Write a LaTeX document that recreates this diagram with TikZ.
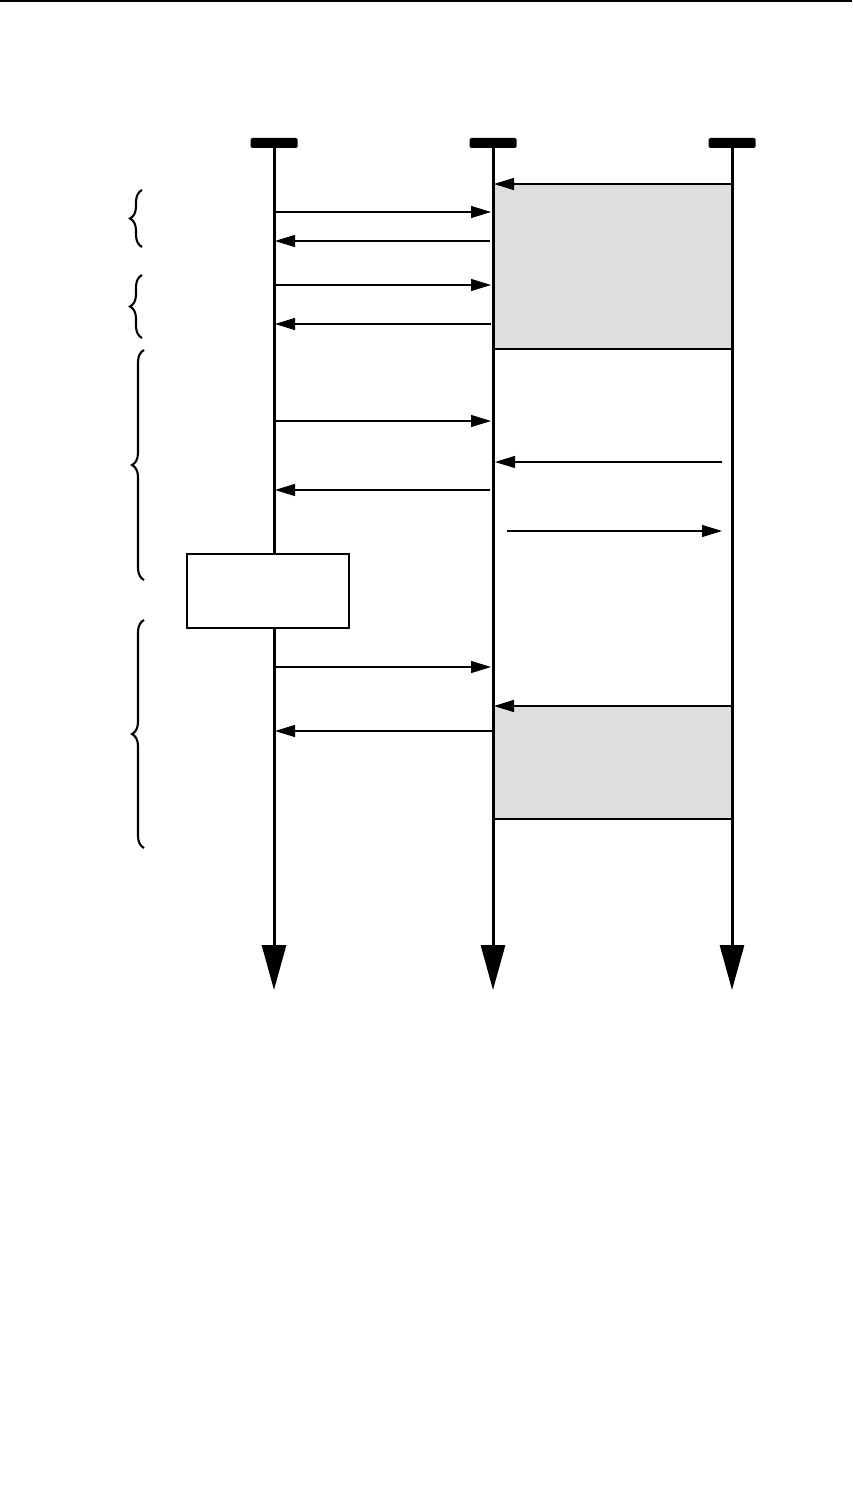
\documentclass[tikz,border=0pt]{standalone}
\usetikzlibrary{arrows.meta,decorations.pathreplacing}
\begin{document}
\begin{tikzpicture}[x=1pt,y=-1pt,
  msg/.style={line width=1.3pt,-{Triangle[length=20pt,width=12pt]}},
  life/.style={line width=3pt,-{Triangle[length=45pt,width=24pt]}},
  head/.style={fill=black,rounded corners=1.5pt,minimum width=47pt,minimum height=10pt,inner sep=0pt},
  shade/.style={fill=black!13,draw=none},
  brc/.style={decorate,decoration={brace,amplitude=12pt},line width=2.1pt},
  procbox/.style={draw,line width=1.5pt,fill=white,minimum width=162pt,minimum height=74pt,inner sep=0pt}]
\useasboundingbox (0,0) rectangle (852,1498);
\draw[line width=2pt] (0,1) -- (852,1);
% shaded regions
\fill[shade] (493,184) rectangle (732,349);
\fill[shade] (493,706) rectangle (732,819);
% lifeline heads
\node[head] (hA) at (274,143) {};
\node[head] (hB) at (493,143) {};
\node[head] (hC) at (732,143) {};
\coordinate (eA) at (274,990);
\coordinate (eB) at (493,990);
\coordinate (eC) at (732,990);
\draw[life] (hA.south) -- (eA);
\draw[life] (hB.south) -- (eB);
\draw[life] (hC.south) -- (eC);
% shaded box bottoms
\coordinate (s1l) at (493,349); \coordinate (s1r) at (732,349);
\coordinate (s2l) at (493,819); \coordinate (s2r) at (732,819);
\draw[line width=2pt] (s1l) -- (s1r);
\draw[line width=2pt] (s2l) -- (s2r);
% messages
\coordinate (m0s) at (732,184); \coordinate (m0e) at (494,184);
\draw[msg] (m0s) -- (m0e);
\coordinate (m1s) at (276,212); \coordinate (m1e) at (491,212);
\draw[msg] (m1s) -- (m1e);
\coordinate (m2s) at (490,241); \coordinate (m2e) at (275,241);
\draw[msg] (m2s) -- (m2e);
\coordinate (m3s) at (276,285); \coordinate (m3e) at (491,285);
\draw[msg] (m3s) -- (m3e);
\coordinate (m4s) at (491,324); \coordinate (m4e) at (275,324);
\draw[msg] (m4s) -- (m4e);
\coordinate (m5s) at (276,421); \coordinate (m5e) at (491,421);
\draw[msg] (m5s) -- (m5e);
\coordinate (m6s) at (722,462); \coordinate (m6e) at (495,462);
\draw[msg] (m6s) -- (m6e);
\coordinate (m7s) at (490,490); \coordinate (m7e) at (275,490);
\draw[msg] (m7s) -- (m7e);
\coordinate (m8s) at (507,531); \coordinate (m8e) at (722,531);
\draw[msg] (m8s) -- (m8e);
\coordinate (m9s) at (276,667); \coordinate (m9e) at (491,667);
\draw[msg] (m9s) -- (m9e);
\coordinate (m10s) at (732,706); \coordinate (m10e) at (494,706);
\draw[msg] (m10s) -- (m10e);
\coordinate (m11s) at (492,731); \coordinate (m11e) at (275,731);
\draw[msg] (m11s) -- (m11e);
% process box
\node[procbox] (pb) at (268,591) {};
% braces
\coordinate (b1t) at (142,190); \coordinate (b1b) at (142,247);
\coordinate (b2t) at (142,275); \coordinate (b2b) at (142,338);
\coordinate (b3t) at (144,350); \coordinate (b3b) at (144,580);
\coordinate (b4t) at (144,620); \coordinate (b4b) at (144,848);
\draw[brc] (b1b) -- (b1t);
\draw[brc] (b2b) -- (b2t);
\draw[brc] (b3b) -- (b3t);
\draw[brc] (b4b) -- (b4t);
\end{tikzpicture}
\end{document}
